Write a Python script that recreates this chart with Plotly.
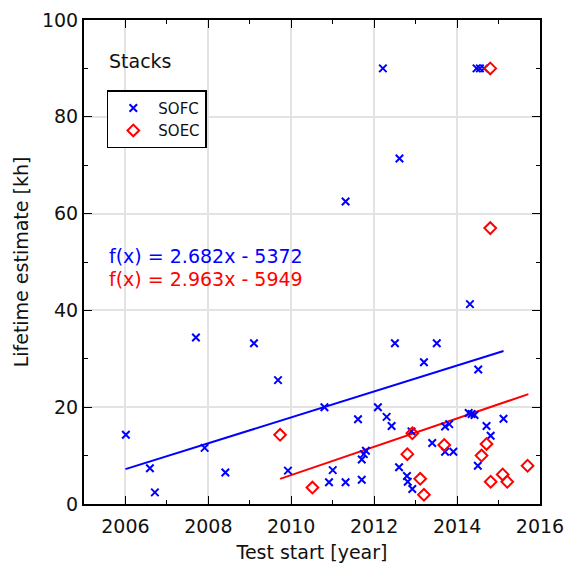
import plotly.graph_objects as go

# SOFC stacks (blue x)
sofc_year = [2006.01, 2006.59, 2006.71, 2007.70, 2007.91, 2008.41, 2009.10, 2009.68, 2009.92,
             2010.80, 2010.91, 2011.00, 2011.31, 2011.31, 2011.61, 2011.70, 2011.70, 2011.75, 2011.80,
             2012.09, 2012.21, 2012.30, 2012.42, 2012.50, 2012.60, 2012.61, 2012.79, 2012.81, 2012.90,
             2012.92, 2013.20, 2013.40, 2013.51, 2013.71, 2013.71, 2013.81, 2013.91, 2014.28, 2014.31,
             2014.35, 2014.42, 2014.47, 2014.50, 2014.51, 2014.55, 2014.65, 2014.71, 2014.81, 2015.12]
sofc_life = [14.3, 7.4, 2.4, 34.4, 11.6, 6.5, 33.2, 25.6, 6.9,
             20.0, 4.5, 7.0, 4.5, 62.5, 17.5, 5.0, 9.2, 10.3, 11.0,
             20.0, 90.0, 18.0, 16.1, 33.2, 7.6, 71.4, 5.8, 4.6, 15.0,
             3.1, 29.3, 12.6, 33.2, 16.0, 10.8, 16.5, 10.8, 18.8, 41.3,
             18.6, 18.4, 90.0, 7.9, 27.8, 90.0, 90.0, 16.1, 14.1, 17.6]

# SOEC stacks (red diamonds)
soec_year = [2009.73, 2010.51, 2012.80, 2012.92, 2013.11, 2013.20, 2013.69, 2014.59, 2014.71,
             2014.80, 2014.80, 2014.81, 2015.10, 2015.21, 2015.70]
soec_life = [14.3, 3.4, 10.3, 14.6, 5.2, 1.9, 12.2, 10.0, 12.4,
             57.0, 90.0, 4.6, 6.1, 4.6, 7.9]

# Linear fit lines (end points)
sofc_fit_x = [2006.0, 2015.12]
sofc_fit_y = [7.2, 31.6]
soec_fit_x = [2009.73, 2015.72]
soec_fit_y = [5.2, 22.7]

x_ticks = [2006, 2008, 2010, 2012, 2014, 2016]
y_ticks = [0, 20, 40, 60, 80, 100]

FONT = "DejaVu Sans"
FS = 19

fig = go.Figure()
fig.add_trace(go.Scatter(x=sofc_fit_x, y=sofc_fit_y, mode="lines",
                         line=dict(color="blue", width=2), showlegend=False, hoverinfo="skip"))
fig.add_trace(go.Scatter(x=soec_fit_x, y=soec_fit_y, mode="lines",
                         line=dict(color="red", width=2), showlegend=False, hoverinfo="skip"))
fig.add_trace(go.Scatter(x=sofc_year, y=sofc_life, mode="markers", name="SOFC",
                         marker=dict(symbol="x-thin-open", size=7.5, color="blue",
                                     line=dict(color="blue", width=2))))
fig.add_trace(go.Scatter(x=soec_year, y=soec_life, mode="markers", name="SOEC",
                         marker=dict(symbol="diamond-open", size=9, color="red",
                                     line=dict(color="red", width=2))))

axis_common = dict(showline=True, linecolor="black", linewidth=2, mirror="allticks",
                   ticks="inside", ticklen=8, tickwidth=1, tickcolor="black",
                   showgrid=True, gridcolor="#e3e3e3", gridwidth=1.5, zeroline=False,
                   automargin=False,
                   tickfont=dict(family=FONT, size=FS, color="#111"))

fig.update_xaxes(range=[2005, 2016], tickvals=x_ticks, ticktext=[str(v) for v in x_ticks],
                 ticklabelstandoff=4,
                 minor=dict(ticks="inside", dtick=1, tick0=2005, ticklen=4, tickcolor="black", showgrid=False),
                 title=dict(text="Test start [year]", font=dict(family=FONT, size=FS, color="#111"), standoff=10),
                 **axis_common)
fig.update_yaxes(range=[0, 100], tickvals=y_ticks, ticktext=[str(v) for v in y_ticks],
                 minor=dict(ticks="inside", dtick=10, tick0=0, ticklen=4, tickcolor="black", showgrid=False),
                 title=dict(text="Lifetime estimate [kh]", font=dict(family=FONT, size=FS, color="#111"), standoff=8),
                 **axis_common)

fig.add_annotation(x=0.05, y=0.915, xref="paper", yref="paper", xanchor="left", yanchor="middle",
                   text="Stacks", showarrow=False, font=dict(family=FONT, size=FS, color="#111"))
fig.add_annotation(x=0.05, y=0.513, xref="paper", yref="paper", xanchor="left", yanchor="middle",
                   text="f(x) = 2.682x - 5372", showarrow=False, font=dict(family=FONT, size=FS, color="blue"))
fig.add_annotation(x=0.05, y=0.464, xref="paper", yref="paper", xanchor="left", yanchor="middle",
                   text="f(x) = 2.963x - 5949", showarrow=False, font=dict(family=FONT, size=FS, color="red"))

fig.update_layout(
    width=580, height=565,
    margin=dict(l=84, r=40, t=20, b=61),
    paper_bgcolor="white", plot_bgcolor="white",
    font=dict(family=FONT, color="#111"),
    legend=dict(x=0.05, y=0.855, xanchor="left", yanchor="top",
                bordercolor="black", borderwidth=1.5, bgcolor="white",
                font=dict(family=FONT, size=15, color="#111"),
                tracegroupgap=0, itemwidth=40),
)

fig.write_html("out.html", config={"displayModeBar": False},
               post_script="document.body.style.margin='0px';document.body.style.overflow='hidden';")
